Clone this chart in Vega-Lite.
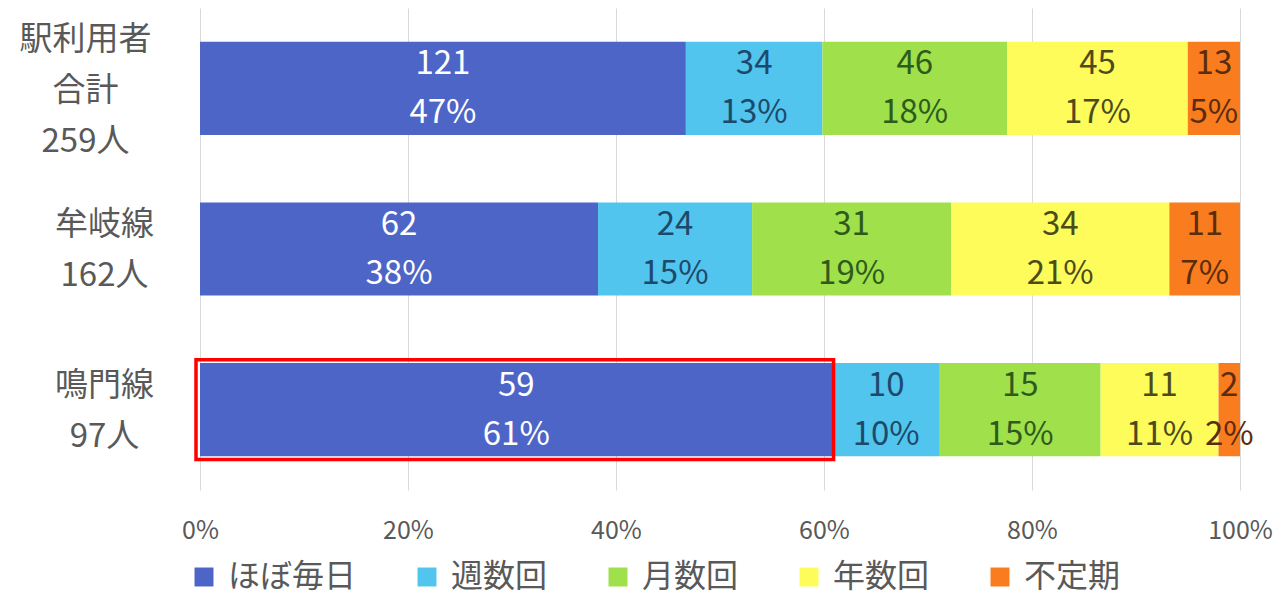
{
  "$schema": "https://vega.github.io/schema/vega-lite/v6.json",
  "width": 1040,
  "height": 482,
  "autosize": "none",
  "padding": {"left": 200, "top": 8, "right": 47, "bottom": 106},
  "background": "white",
  "config": {
    "font": "Noto Sans CJK JP",
    "view": {"stroke": null}
  },
  "data": {
    "values": [
      {"line": "駅利用者|合計|259人", "cat": "ほぼ毎日", "k": 1, "count": 121, "pct": "47%"},
      {"line": "駅利用者|合計|259人", "cat": "週数回", "k": 2, "count": 34, "pct": "13%"},
      {"line": "駅利用者|合計|259人", "cat": "月数回", "k": 3, "count": 46, "pct": "18%"},
      {"line": "駅利用者|合計|259人", "cat": "年数回", "k": 4, "count": 45, "pct": "17%"},
      {"line": "駅利用者|合計|259人", "cat": "不定期", "k": 5, "count": 13, "pct": "5%"},
      {"line": "牟岐線|162人", "cat": "ほぼ毎日", "k": 1, "count": 62, "pct": "38%"},
      {"line": "牟岐線|162人", "cat": "週数回", "k": 2, "count": 24, "pct": "15%"},
      {"line": "牟岐線|162人", "cat": "月数回", "k": 3, "count": 31, "pct": "19%"},
      {"line": "牟岐線|162人", "cat": "年数回", "k": 4, "count": 34, "pct": "21%"},
      {"line": "牟岐線|162人", "cat": "不定期", "k": 5, "count": 11, "pct": "7%"},
      {"line": "鳴門線|97人", "cat": "ほぼ毎日", "k": 1, "count": 59, "pct": "61%"},
      {"line": "鳴門線|97人", "cat": "週数回", "k": 2, "count": 10, "pct": "10%"},
      {"line": "鳴門線|97人", "cat": "月数回", "k": 3, "count": 15, "pct": "15%"},
      {"line": "鳴門線|97人", "cat": "年数回", "k": 4, "count": 11, "pct": "11%"},
      {"line": "鳴門線|97人", "cat": "不定期", "k": 5, "count": 2, "pct": "2%"}
    ]
  },
  "transform": [
    {"stack": "count", "groupby": ["line"], "offset": "normalize", "sort": [{"field": "k", "order": "ascending"}], "as": ["x0", "x1"]},
    {"calculate": "(datum.x0 + datum.x1) / 2", "as": "mid"},
    {"calculate": "datum.count + '\\n' + datum.pct", "as": "lbl"}
  ],
  "encoding": {
    "y": {
      "field": "line",
      "type": "nominal",
      "sort": ["駅利用者|合計|259人", "牟岐線|162人", "鳴門線|97人"],
      "scale": {"paddingInner": 0.42, "paddingOuter": 0.21},
      "title": null,
      "axis": {
        "labelExpr": "split(datum.label, '|')",
        "labelAlign": "center",
        "labelBaseline": "middle",
        "labelPadding": {"condition": {"test": "indexof(datum.value, '合計') >= 0", "value": 115}, "value": 96},
        "labelOffset": {"condition": {"test": "indexof(datum.value, '合計') >= 0", "value": -48}, "value": -24},
        "labelLineHeight": 51,
        "labelFontSize": 33,
        "labelColor": "#595959",
        "labelLimit": 300,
        "ticks": false,
        "domain": false
      }
    }
  },
  "layer": [
    {
      "mark": {"type": "bar"},
      "encoding": {
        "x": {
          "field": "x0",
          "type": "quantitative",
          "scale": {"domain": [0, 1], "nice": false},
          "title": null,
          "axis": {
            "format": "%",
            "values": [0, 0.2, 0.4, 0.6, 0.8, 1],
            "grid": true,
            "gridColor": "#d9d9d9",
            "gridWidth": 1,
            "domain": false,
            "ticks": false,
            "labelFontSize": 25,
            "labelColor": "#595959",
            "labelPadding": 28,
            "labelFlush": false
          }
        },
        "x2": {"field": "x1"},
        "color": {
          "field": "cat",
          "type": "nominal",
          "sort": ["ほぼ毎日", "週数回", "月数回", "年数回", "不定期"],
          "scale": {
            "domain": ["ほぼ毎日", "週数回", "月数回", "年数回", "不定期"],
            "range": ["#4e65c8", "#52c5ef", "#9fe04b", "#fdfc5b", "#f97c1e"]
          },
          "legend": {
            "title": null,
            "orient": "none",
            "direction": "horizontal",
            "legendX": -12,
            "legendY": 553,
            "symbolType": "square",
            "symbolSize": 360,
            "symbolStrokeWidth": 0,
            "labelFontSize": 32,
            "labelColor": "#595959",
            "labelOffset": 8,
            "columnPadding": 54,
            "labelLimit": 300
          }
        }
      }
    },
    {
      "transform": [{"filter": "datum.k == 1 && datum.count == 59"}],
      "mark": {"type": "bar", "fill": null, "fillOpacity": 0, "stroke": "#ff0000", "strokeWidth": 3.5, "xOffset": -4, "x2Offset": 1, "height": {"band": 1.07}},
      "encoding": {
        "x": {"field": "x0", "type": "quantitative"},
        "x2": {"field": "x1"}
      }
    },
    {
      "mark": {"type": "text", "fontSize": 33, "baseline": "middle", "align": "center", "lineBreak": "\n", "lineHeight": 49, "dy": -24},
      "encoding": {
        "x": {"field": "mid", "type": "quantitative"},
        "text": {"field": "lbl", "type": "nominal"},
        "color": {
          "field": "cat",
          "type": "nominal",
          "scale": {
            "domain": ["ほぼ毎日", "週数回", "月数回", "年数回", "不定期"],
            "range": ["#ffffff", "#1d4a6b", "#2e5b1c", "#4d4b1a", "#5b2c0e"]
          },
          "legend": null
        }
      }
    }
  ],
  "resolve": {"scale": {"color": "independent"}}
}
